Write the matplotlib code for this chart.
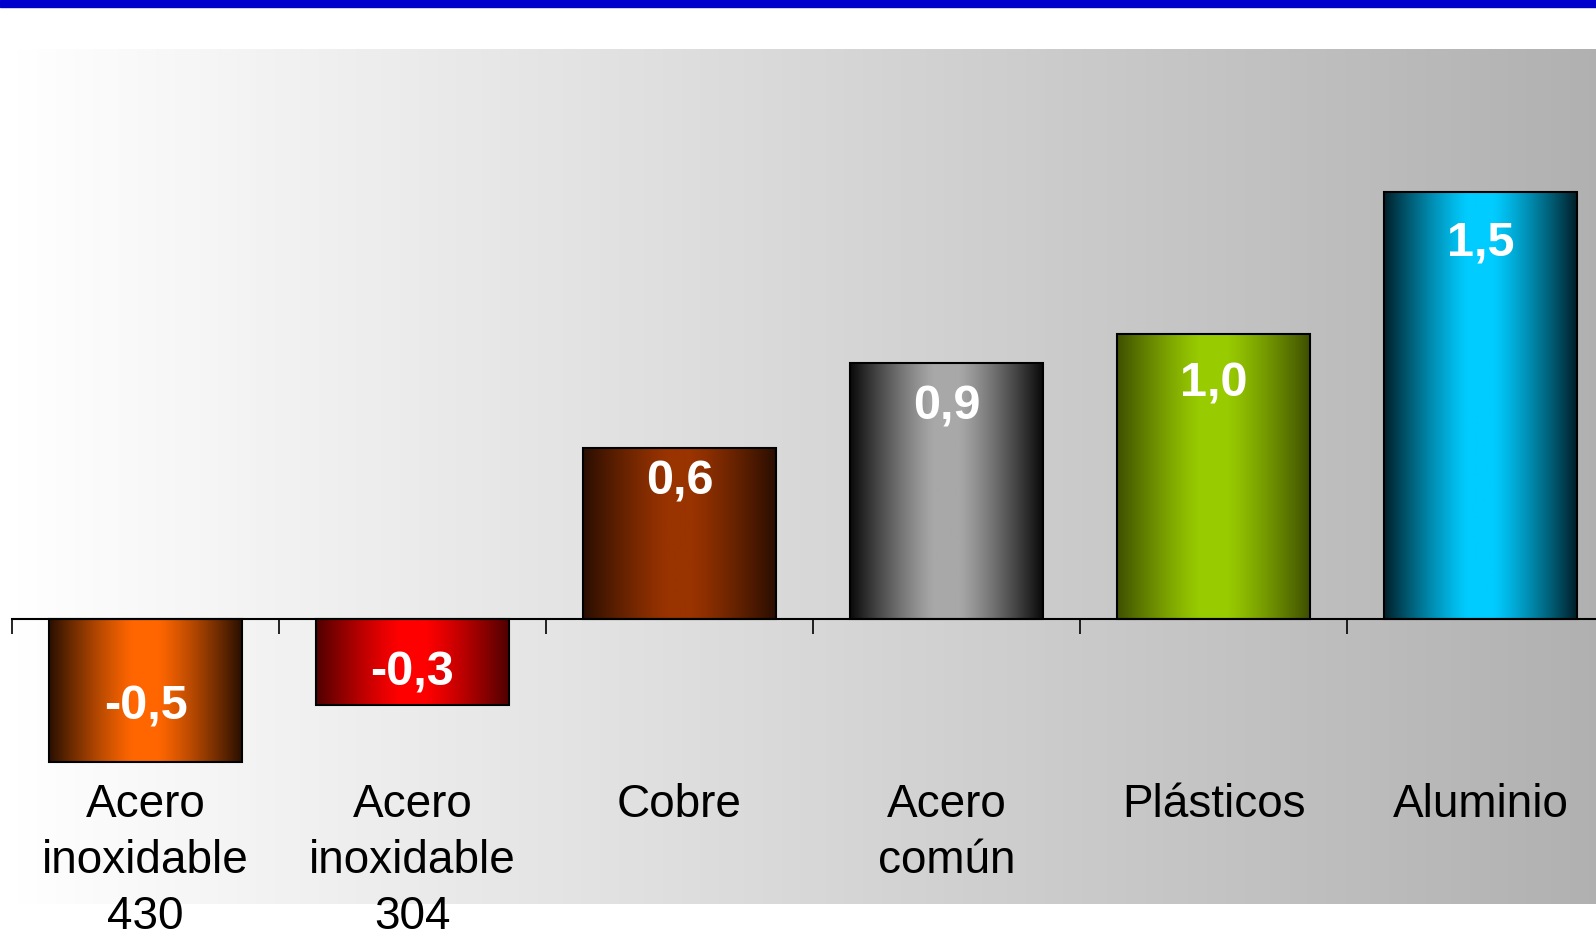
import numpy as np
import matplotlib
matplotlib.use("Agg")
import matplotlib.pyplot as plt
from matplotlib.colors import to_rgb
from matplotlib.patches import Rectangle

categories = ["Acero\ninoxidable\n430", "Acero\ninoxidable\n304", "Cobre",
              "Acero\ncomún", "Plásticos", "Aluminio"]
values = [-0.5, -0.3, 0.6, 0.9, 1.0, 1.5]
value_labels = ["-0,5", "-0,3", "0,6", "0,9", "1,0", "1,5"]
center_colors = ["#FF6600", "#FF0000", "#993300", "#A8A8A8", "#99CC00", "#00CCFF"]
edge_colors = ["#2A1000", "#500000", "#2A0E00", "#0A0A0A", "#3F5000", "#00202A"]

plt.rcParams["font.family"] = ["Liberation Sans", "DejaVu Sans"]

fig = plt.figure(figsize=(15.96, 9.30), dpi=100)
fig.patch.set_facecolor("white")

# blue strip at the top
fig.patches.append(Rectangle((0, 1 - 7 / 930), 1, 7 / 930, transform=fig.transFigure,
                             color="#0000CC", zorder=5))

ax = fig.add_axes([12 / 1596, 26 / 930, 1602 / 1596, 855 / 930])
ax.set_xlim(-0.5, 5.5)
ax.set_ylim(-1, 2)

# background gradient white -> gray
bg = np.linspace(1.0, 0.69, 256).reshape(1, -1)
ax.imshow(np.dstack([bg, bg, bg]), extent=[0, 1, 0, 1], transform=ax.transAxes,
          aspect="auto", zorder=0)

width = 0.72
xs = np.arange(len(values))
bars = ax.bar(xs, values, width=width, color="none", edgecolor="black",
              linewidth=1.5, zorder=3)

# cylinder-like shading inside each bar
t = np.linspace(-1, 1, 200)
w = np.clip(np.abs(t) * 1.15 - 0.15, 0, 1) ** 1.2
for x, v, c1, c2 in zip(xs, values, center_colors, edge_colors):
    a = np.array(to_rgb(c1))
    b = np.array(to_rgb(c2))
    img = a[None, :] * (1 - w[:, None]) + b[None, :] * w[:, None]
    ax.imshow(img[None, :, :], extent=[x - width / 2, x + width / 2, min(0, v), max(0, v)],
              aspect="auto", zorder=2)

ax.set_xlim(-0.5, 5.5)
ax.set_ylim(-1, 2)

# value labels inside the bar ends
label_pad = [0.19, 0.11, 0.12, 0.155, 0.175, 0.18]
for x, v, s, p in zip(xs, values, value_labels, label_pad):
    y = v + p if v < 0 else v - p
    ax.text(x, y, s, ha="center", va="center", color="white", fontsize=35,
            fontweight="bold", zorder=4)

# category labels
for x, s in zip(xs, categories):
    ax.text(x, -0.575, s, ha="center", va="top", fontsize=33, color="black",
            linespacing=1.36, zorder=4)

for sp in ["left", "right", "top"]:
    ax.spines[sp].set_visible(False)
ax.spines["bottom"].set_position(("data", 0))
ax.spines["bottom"].set_linewidth(1.5)
ax.spines["bottom"].set_zorder(3.5)
ax.set_xticks(np.arange(-0.5, 6, 1))
ax.set_xticklabels([])
ax.tick_params(axis="x", direction="out", length=11, width=1.2)
ax.set_yticks([])

fig.savefig("out.png", dpi=100)
